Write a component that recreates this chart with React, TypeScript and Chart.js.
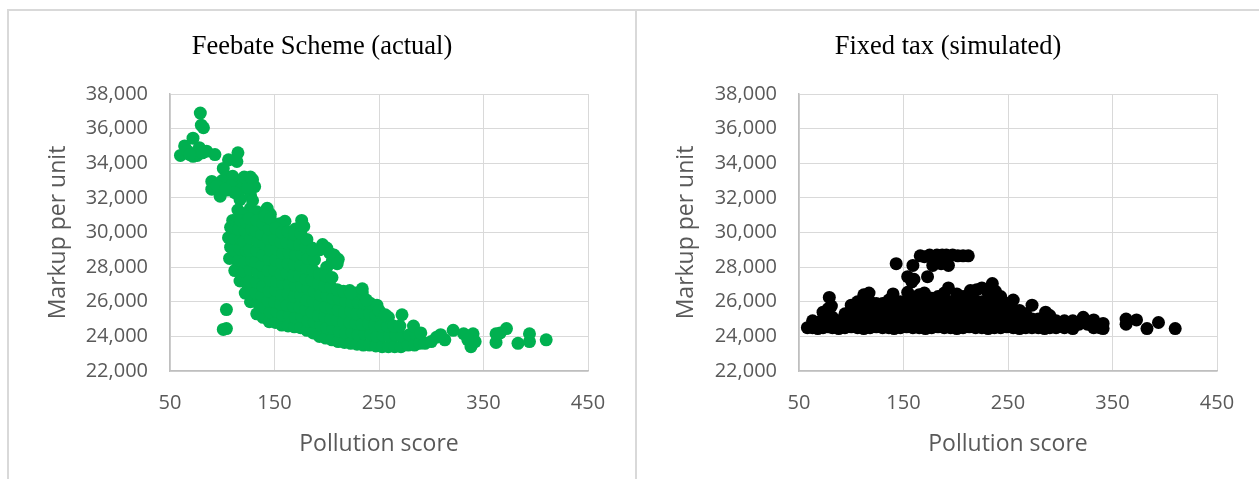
import React, { useEffect, useRef } from "react";
import { Chart, registerables } from "chart.js";

Chart.register(...registerables);

const panelTitles = ["Feebate Scheme (actual)", "Fixed tax (simulated)"];
const xAxisTitle = "Pollution score";
const yAxisTitle = "Markup per unit";
const xTickValues = [50, 150, 250, 350, 450];
const yTickValues = [22000, 24000, 26000, 28000, 30000, 32000, 34000, 36000, 38000];

// Feebate scheme (actual): [pollution score, markup per unit]
const feebatePoints: [number, number][] = [
  [79, 36900], [80, 36200], [82, 36050], [72, 35450], [64, 35000], [60, 34450], [67, 34700],
  [72, 34400], [78, 34900], [76, 34450], [85, 34700], [93, 34500], [69, 34500], [81, 34600],
  [115, 34600], [114, 34100], [106, 34200], [101, 33700], [104, 33200], [90, 32950], [90, 32500],
  [98, 32100], [105, 32450], [113, 32850], [121, 32950], [129, 33050], [131, 32650], [117, 31900],
  [110, 33250], [100, 33000], [127, 32150], [129, 31850], [95, 32700], [108, 32700], [118, 32500],
  [124, 32600], [112, 32300], [103, 32500], [121, 33200], [127, 33200],
  [115, 31300], [127, 31400], [121, 30900], [110, 30700], [113, 30150], [119, 31100], [133, 31200],
  [143, 31400], [140, 31000], [146, 31050],
  [160, 30650], [176, 30700], [178, 30350], [170, 30200], [155, 30500],
  [207, 28700], [211, 28450], [196, 29300], [200, 29100], [200, 28000], [192, 27450], [188, 28400],
  [193, 29000], [205, 28300], [186, 29100], [203, 28800], [210, 28200],
  [107, 28500], [108, 29150], [106, 29700], [108, 30300],
  [112, 27800], [113, 28450], [111, 29000], [112, 29650], [113, 30250],
  [117, 27200], [118, 27850], [116, 28400], [117, 29050], [118, 29600], [116, 30200], [118, 30700],
  [122, 26500], [123, 27100], [121, 27750], [122, 28300], [123, 28950], [121, 29500], [122, 30100], [123, 30600],
  [127, 26000], [128, 26650], [126, 27200], [127, 27850], [128, 28400], [126, 29000], [127, 29650], [128, 30200], [126, 30800],
  [133, 25300], [134, 25950], [132, 26500], [133, 27150], [134, 27700], [132, 28300], [133, 28950], [134, 29500], [132, 30100], [133, 30700],
  [139, 25100], [140, 25700], [138, 26350], [139, 26900], [140, 27550], [138, 28100], [139, 28700], [140, 29350], [138, 29900], [139, 30500], [141, 30950],
  [145, 24850], [146, 25400], [144, 26050], [145, 26600], [146, 27250], [144, 27800], [145, 28450], [146, 29000], [144, 29650], [145, 30200], [146, 30800],
  [151, 24800], [152, 25450], [150, 26000], [151, 26650], [152, 27200], [150, 27850], [151, 28400], [152, 29050], [150, 29600], [151, 30250],
  [157, 24650], [158, 25200], [156, 25850], [157, 26400], [158, 27050], [156, 27600], [157, 28250], [158, 28800], [156, 29450], [157, 30000],
  [163, 24600], [164, 25250], [162, 25800], [163, 26450], [164, 27000], [162, 27650], [163, 28200], [164, 28850], [162, 29400], [163, 30050],
  [169, 24550], [170, 25100], [168, 25750], [169, 26300], [170, 26950], [168, 27500], [169, 28150], [170, 28700], [168, 29350], [169, 29900],
  [175, 24500], [176, 25150], [174, 25700], [175, 26350], [176, 26900], [174, 27550], [175, 28100], [176, 28750], [174, 29300], [175, 29950], [176, 30400],
  [181, 24350], [182, 24900], [180, 25550], [181, 26100], [182, 26750], [180, 27300], [181, 27950], [182, 28500], [180, 29150], [181, 29600],
  [187, 24200], [188, 24850], [186, 25400], [187, 26050], [188, 26600], [186, 27250], [187, 27800], [188, 28450], [186, 29000],
  [193, 24000], [194, 24650], [192, 25200], [193, 25850], [194, 26400], [192, 27050], [193, 27600],
  [199, 23900], [200, 24500], [198, 25150], [199, 25700], [200, 26350], [198, 26900], [199, 27500],
  [205, 23800], [206, 24450], [204, 25000], [205, 25650], [206, 26200], [204, 26850], [205, 27400],
  [211, 23700], [212, 24300], [210, 24950], [211, 25500], [212, 26150], [210, 26700],
  [217, 23650], [218, 24200], [216, 24850], [217, 25400], [218, 26050], [216, 26600],
  [223, 23600], [224, 24250], [222, 24800], [223, 25450], [224, 26000], [222, 26650],
  [229, 23550], [230, 24100], [228, 24750], [229, 25300], [230, 25950], [228, 26500],
  [235, 23500], [236, 24150], [234, 24700], [235, 25350], [236, 25900], [234, 26500],
  [241, 23500], [242, 24100], [240, 24750], [241, 25300], [242, 25900],
  [247, 23450], [248, 24000], [246, 24650], [247, 25200], [248, 25800],
  [253, 23400], [254, 24050], [252, 24600], [253, 25250],
  [259, 23400], [260, 24000], [258, 24600], [259, 25100],
  [265, 23400], [266, 24050], [264, 24600],
  [271, 23400], [272, 24000], [270, 24600],
  [278, 23500], [279, 24100],
  [284, 23500], [285, 24150], [283, 24600],
  [289, 23600], [290, 24200],
  [294, 23600],
  [104, 25550], [104, 24450], [101, 24400],
  [223, 26500], [234, 26750], [238, 26100], [250, 25500], [256, 25250], [272, 25250],
  [305, 23950], [313, 23800], [309, 24100], [321, 24350], [331, 24150], [338, 23400], [340, 24150],
  [342, 23700], [335, 23800], [300, 23700], [362, 24150], [362, 23650], [366, 24200], [372, 24450],
  [383, 23600], [394, 24150], [394, 23700], [410, 23800],
];

// Fixed tax (simulated): [pollution score, markup per unit]
const fixedTaxPoints: [number, number][] = [
  [58, 24500],
  [63, 24500], [63, 24900],
  [68, 24450], [68, 24800],
  [73, 24500], [73, 25000], [73, 25400],
  [78, 24550], [78, 25050], [78, 25600], [79, 26250],
  [82, 24500], [82, 25100], [81, 25750],
  [88, 24450], [88, 24900],
  [94, 24500], [94, 25000], [94, 25300],
  [100, 24550], [100, 25000], [100, 25500], [100, 25800],
  [106, 24500], [106, 25050], [106, 25500], [106, 26000],
  [112, 24450], [112, 25000], [112, 25500], [112, 26000], [112, 26400],
  [118, 24500], [118, 25000], [118, 25550], [118, 26000], [117, 26500],
  [124, 24550], [124, 25000], [124, 25500], [124, 25900],
  [130, 24500], [130, 25050], [130, 25500], [130, 25900],
  [136, 24500], [136, 25000], [136, 25500], [136, 26100],
  [141, 24450], [141, 25000], [141, 25550], [141, 26000], [140, 26450],
  [147, 24500], [147, 25000], [147, 25500], [147, 26000],
  [153, 24550], [153, 25050], [153, 25500], [153, 26000], [154, 26550],
  [159, 24500], [159, 25000], [159, 25500], [159, 26000], [159, 26200],
  [165, 24500], [165, 25000], [165, 25550], [165, 26000], [165, 26400],
  [171, 24450], [171, 25000], [171, 25500], [171, 26000], [170, 26500],
  [177, 24500], [177, 25050], [177, 25500], [177, 26000], [177, 26200],
  [183, 24550], [183, 25000], [183, 25500], [183, 26000], [183, 26300],
  [189, 24500], [189, 25000], [189, 25550], [189, 26000], [189, 26500],
  [193, 26800],
  [195, 24500], [195, 25000], [195, 25500], [195, 26000],
  [201, 24450], [201, 25050], [201, 25500], [201, 26000], [201, 26450],
  [207, 24500], [207, 25000], [207, 25500], [207, 26000], [207, 26300],
  [213, 24550], [213, 25000], [213, 25550], [213, 26000], [214, 26650],
  [219, 24500], [219, 25000], [219, 25500], [219, 26050], [220, 26700],
  [225, 24500], [225, 25050], [225, 25500], [225, 26000], [225, 26800],
  [231, 24450], [231, 25000], [231, 25500], [231, 26000], [231, 26500],
  [235, 27050],
  [237, 24500], [237, 25000], [237, 25550], [237, 26000], [238, 26600],
  [243, 24500], [243, 25050], [243, 25500], [243, 26000], [243, 26300],
  [249, 24550], [249, 25000], [249, 25500], [249, 25900],
  [255, 24500], [255, 25000], [255, 25500], [255, 26100],
  [261, 24450], [261, 25000], [261, 25500],
  [267, 24500], [267, 24900], [267, 25300],
  [273, 24500], [273, 25000], [273, 25800],
  [279, 24500], [279, 25000],
  [285, 24450], [285, 24900], [286, 25400],
  [290, 24500], [290, 25200],
  [296, 24500], [296, 24900],
  [304, 24900], [304, 24500],
  [312, 24450], [312, 24900],
  [318, 24700],
  [322, 25100],
  [326, 24700],
  [332, 24500], [332, 24950],
  [338, 24500],
  [341, 24450], [341, 24750],
  [363, 24700], [363, 25000],
  [373, 24950],
  [383, 24450],
  [394, 24800],
  [410, 24450],
  [143, 28200], [159, 28100], [166, 28650], [170, 28600], [175, 28700], [178, 28100],
  [182, 28700], [187, 28700], [191, 28700], [193, 28100], [197, 28700], [202, 28650],
  [207, 28650], [212, 28650], [186, 28200], [154, 27450], [158, 27150], [173, 27450],
  [160, 27300],
];

const seriesColors = ["#00B050", "#000000"];

const tickFont = { family: '"Open Sans", "Noto Sans", sans-serif', size: 20 };
const axisTitleFont = { family: '"Open Sans", "Noto Sans", sans-serif', size: 23 };
const chartTitleFont = { family: '"Liberation Serif", "Times New Roman", serif', size: 26.5, weight: "normal" as const };

type PanelProps = {
  title: string;
  points: [number, number][];
  color: string;
  left: number;
  width: number;
  yAxisWidth: number;
  padRight: number;
};

function ScatterPanel({ title, points, color, left, width, yAxisWidth, padRight }: PanelProps) {
  const ref = useRef<HTMLCanvasElement | null>(null);
  useEffect(() => {
    if (!ref.current) return;
    const chart = new Chart(ref.current, {
      type: "scatter",
      data: {
        datasets: [
          {
            data: points.map(([x, y]) => ({ x, y })),
            backgroundColor: color,
            borderColor: color,
            pointRadius: 6.5,
            pointBorderWidth: 0,
            pointHoverRadius: 6.5,
          },
        ],
      },
      options: {
        responsive: false,
        animation: false,
        devicePixelRatio: 1,
        layout: { padding: 0 },
        plugins: {
          legend: { display: false },
          tooltip: { enabled: false },
          title: {
            display: true,
            text: title,
            color: "#000000",
            font: chartTitleFont,
            padding: { top: 20.1, bottom: 31.1 },
          },
        },
        scales: {
          x: {
            type: "linear",
            min: xTickValues[0],
            max: xTickValues[xTickValues.length - 1],
            afterBuildTicks: (scale: any) => {
              scale.ticks = xTickValues.map((v) => ({ value: v }));
            },
            ticks: { color: "#595959", font: tickFont, padding: 20 },
            grid: { color: "#d9d9d9", drawTicks: false, lineWidth: 1 },
            border: { display: true, color: "#bfbfbf", width: 1.5 },
            title: {
              display: true,
              text: xAxisTitle,
              color: "#595959",
              font: axisTitleFont,
              padding: { top: 0, bottom: 21.2 },
            },
            afterFit: (scale: any) => {
              scale.height = 108;
            },
          },
          y: {
            type: "linear",
            min: yTickValues[0],
            max: yTickValues[yTickValues.length - 1],
            afterBuildTicks: (scale: any) => {
              scale.ticks = yTickValues.map((v) => ({ value: v }));
            },
            ticks: {
              color: "#595959",
              font: tickFont,
              padding: 22,
              callback: (v: any) => Number(v).toLocaleString("en-US"),
            },
            grid: { color: "#d9d9d9", drawTicks: false, lineWidth: 1 },
            border: { display: true, color: "#bfbfbf", width: 1.5 },
            title: {
              display: true,
              text: yAxisTitle,
              color: "#595959",
              font: axisTitleFont,
              padding: { top: 35.2, bottom: 0 },
            },
            afterFit: (scale: any) => {
              scale.width = yAxisWidth;
            },
          },
          ySpacer: {
            type: "linear",
            position: "right",
            display: true,
            min: yTickValues[0],
            max: yTickValues[yTickValues.length - 1],
            ticks: { display: false },
            grid: { display: false, drawOnChartArea: false, drawTicks: false },
            border: { display: false },
            afterFit: (scale: any) => {
              scale.width = padRight;
            },
          },
        },
      },
    } as any);
    return () => chart.destroy();
  }, []);
  return (
    <canvas
      ref={ref}
      width={width}
      height={468}
      style={{ position: "absolute", left, top: 11, width, height: 468, display: "block" }}
    />
  );
}

export default function App() {
  return (
    <div
      style={{
        position: "fixed",
        left: 0,
        top: 0,
        width: 1259,
        height: 479,
        background: "#ffffff",
        overflow: "hidden",
      }}
    >
      <div style={{ position: "absolute", left: 7, top: 9, width: 1252, height: 2, background: "#d9d9d9" }} />
      <div style={{ position: "absolute", left: 7, top: 9, width: 2, height: 470, background: "#d9d9d9" }} />
      <div style={{ position: "absolute", left: 635, top: 9, width: 2, height: 470, background: "#d9d9d9" }} />
      <ScatterPanel
        title={panelTitles[0]}
        points={feebatePoints}
        color={seriesColors[0]}
        left={9}
        width={626}
        yAxisWidth={161}
        padRight={47}
      />
      <ScatterPanel
        title={panelTitles[1]}
        points={fixedTaxPoints}
        color={seriesColors[1]}
        left={637}
        width={622}
        yAxisWidth={162}
        padRight={42}
      />
    </div>
  );
}
